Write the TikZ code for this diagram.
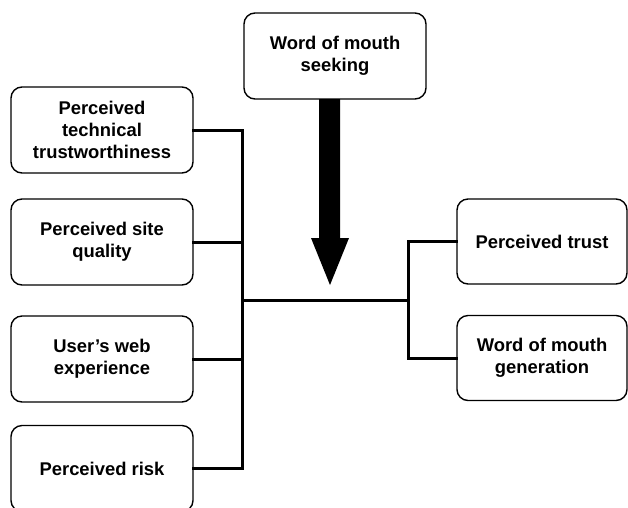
\documentclass[tikz,border=0pt]{standalone}
\usepackage{fontspec}
\setmainfont{Liberation Sans}
\begin{document}
\begin{tikzpicture}[x=1pt,y=-1pt,
  box/.style={draw, line width=1.4pt, rounded corners=11pt, align=center,
    minimum width=182pt, minimum height=86pt, inner sep=0pt,
    font=\bfseries\fontsize{18.4}{21.7}\selectfont},
  rbox/.style={box, minimum width=170pt, minimum height=85pt},
  conn/.style={line width=3pt, line cap=rect}]
\useasboundingbox (0,0) rectangle (628,507);
\clip (0,0) rectangle (628,507);
\node[box] (ws) at (335,56) {Word of mouth\\seeking};
\node[box] (t1) at (102,130) {Perceived\\technical\\trustworthiness};
\node[box] (t2) at (102,242) {Perceived site\\quality};
\node[box] (t3) at (102,359) {User’s web\\experience};
\node[box] (t4) at (102,468.5) {Perceived risk};
\node[rbox] (p1) at (542,241.5) {Perceived trust};
\node[rbox] (p2) at (542,358) {Word of mouth\\generation};
\coordinate (jl) at (242,300);
\coordinate (jr) at (408,300);
\draw[conn] (t1.east) -| (jl) |- (t4.east);
\draw[conn] (t2.east) -- (t2.east -| jl);
\draw[conn] (t3.east) -- (t3.east -| jl);
\draw[conn] (jl) -- (jr);
\draw[conn] (p1.west) -| (jr) |- (p2.west);
\coordinate (tip) at (330,285);
\fill (319,99) -- (340,99) -- (340,238) -- (349,238) -- (tip) -- (311,238) -- (319,238) -- cycle;
\end{tikzpicture}
\end{document}
